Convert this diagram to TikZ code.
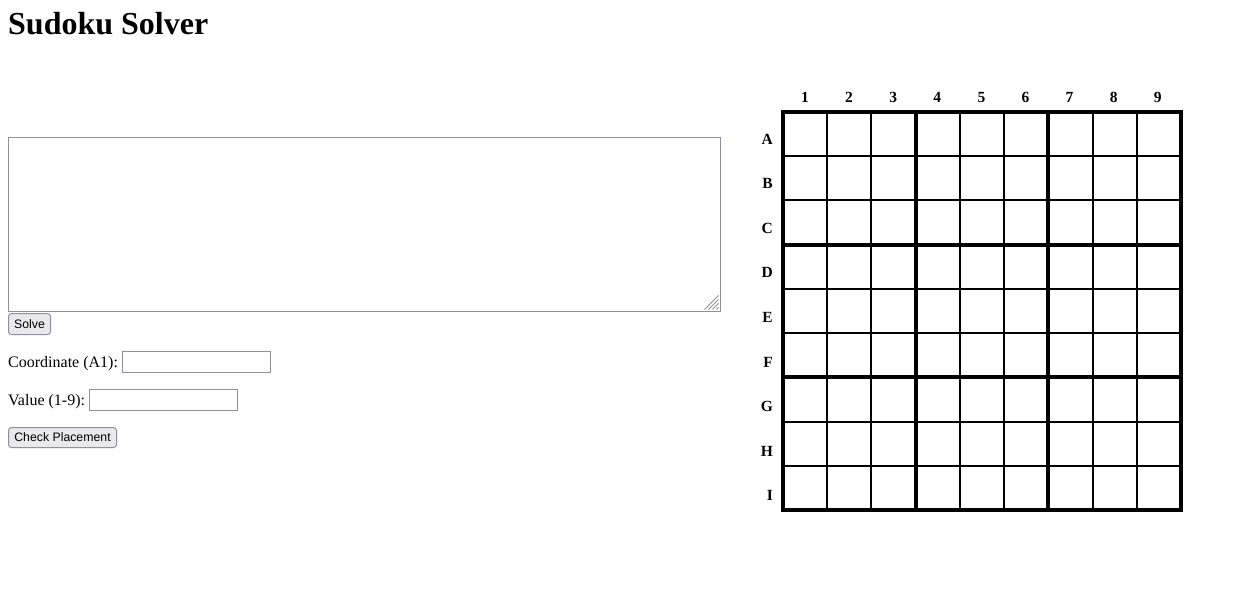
\documentclass[tikz,border=0pt]{standalone}
\usepackage{fontspec}
\usetikzlibrary{calc}
\setmainfont{Liberation Serif}
\newfontfamily\btnfont{Liberation Sans}
\definecolor{fieldborder}{HTML}{8F8F9D}
\definecolor{btnfill}{HTML}{E9E9ED}
\begin{document}
\begin{tikzpicture}[x=1pt,y=-1pt,
  field/.style={draw=fieldborder, line width=1pt, fill=white, inner sep=0pt, outer sep=0pt, anchor=north west},
  btn/.style={draw=fieldborder, line width=1pt, fill=btnfill, rounded corners=3pt, inner sep=0pt, outer sep=0pt, anchor=north west, font=\btnfont\fontsize{12.3}{14}\selectfont},
  lbl/.style={inner sep=0pt, anchor=base west, font=\fontsize{16}{19}\selectfont},
  glab/.style={inner sep=0pt, anchor=base, font=\fontsize{15.5}{18}\selectfont\bfseries},
  thinline/.style={line width=2pt},
  thickline/.style={line width=4pt, line cap=rect}]
\useasboundingbox (0,0) rectangle (1260,590);
\fill[white] (0,0) rectangle (1260,590);
% title
\node[inner sep=0pt, anchor=base west, font=\fontsize{32}{38}\selectfont\bfseries] (title) at (8,34) {Sudoku Solver};
% textarea
\node[field, minimum width=712pt, minimum height=174pt] (puzzle) at (8.5,137.5) {};
\foreach \k in {0,4,8,12} {
  \draw[fieldborder, line width=0.9pt] ($(puzzle.south east)+({-16+\k},-2)$) -- ($(puzzle.south east)+(-2,{-16+\k})$);
}
% solve button
\node[btn, minimum width=42pt, minimum height=21pt] (solve) at (8.5,313.5) {Solve};
% coordinate
\node[lbl] (coordlabel) at (8,367) {Coordinate (A1):};
\node[field, minimum width=148pt, minimum height=21pt] (coordinput) at (122.5,351.5) {};
% value
\node[lbl] (valuelabel) at (8,405) {Value (1-9):};
\node[field, minimum width=148pt, minimum height=21pt] (valueinput) at (89.5,389.5) {};
% check button
\node[btn, minimum width=108pt, minimum height=20pt] (check) at (8.5,427.5) {Check Placement};
% grid
\def\gx{783}\def\gy{112}\def\gs{44.222}
\coordinate (gridnw) at (\gx,\gy);
\coordinate (gridse) at (\gx+9*\gs,\gy+9*\gs);
\foreach \i in {1,2,4,5,7,8} {
  \draw[thinline] (\gx+\i*\gs,\gy) -- (\gx+\i*\gs,\gy+9*\gs);
  \draw[thinline] (\gx,\gy+\i*\gs) -- (\gx+9*\gs,\gy+\i*\gs);
}
\foreach \i in {3,6} {
  \draw[thickline] (\gx+\i*\gs,\gy) -- (\gx+\i*\gs,\gy+9*\gs);
  \draw[thickline] (\gx,\gy+\i*\gs) -- (\gx+9*\gs,\gy+\i*\gs);
}
\draw[line width=4pt] (gridnw) rectangle (gridse);
% labels
\foreach \c [count=\i] in {1,...,9} {
  \node[glab] (col\c) at ({805+(\i-1)*44.1},102) {\c};
}
\foreach \r [count=\i] in {A,B,C,D,E,F,G,H,I} {
  \node[glab, anchor=base east] (row\r) at (773,{144+(\i-1)*44.6}) {\r};
}
\end{tikzpicture}
\end{document}
